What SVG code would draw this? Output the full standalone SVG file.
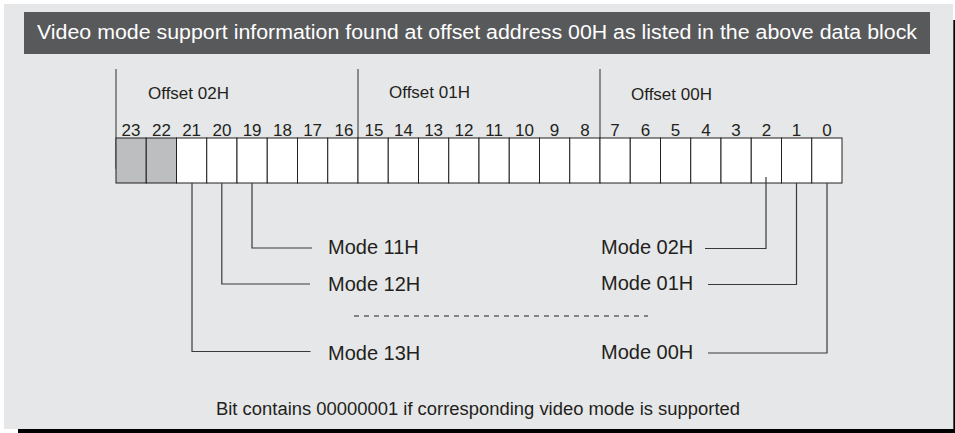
<svg xmlns="http://www.w3.org/2000/svg" width="955" height="433" viewBox="0 0 955 433">
<style>
text{font-family:"Liberation Sans",Arial,Helvetica,sans-serif;fill:#231f20}
.title{fill:#fff;font-size:20px}
.off{font-size:17px}
.num{font-size:17px;text-anchor:middle}
.mode{font-size:20px}
.foot{font-size:18px}
.cell{fill:#fff;stroke:#231f20;stroke-width:1}
.cell.res{fill:#bcbec0}
.sep{stroke:#4d4d4f;stroke-width:1.2;fill:none}
.lead{stroke:#3a3a3c;stroke-width:1.2;fill:none}
.dash{stroke:#231f20;stroke-width:1;stroke-dasharray:5 5;fill:none}
</style>
<rect x="0" y="0" width="955" height="433" fill="#fff"/>
<rect x="4" y="4" width="949" height="425" fill="#e6e7e8"/>
<rect x="953.3" y="20" width="1.7" height="413" fill="#000"/>
<rect x="18" y="429" width="937" height="4" fill="#000"/>

<g id="title">
<rect x="24" y="12" width="906" height="42" fill="#58595b"/>
<text class="title" x="37" y="39" textLength="880" lengthAdjust="spacingAndGlyphs">Video mode support information found at offset address 00H as listed in the above data block</text>
</g>

<g id="offsets">
<line class="sep" x1="116" y1="69" x2="116" y2="169"/>
<line class="sep" x1="358" y1="69" x2="358" y2="169"/>
<line class="sep" x1="600" y1="69" x2="600" y2="169"/>
<text class="off" x="148" y="99">Offset 02H</text>
<text class="off" x="389" y="98">Offset 01H</text>
<text class="off" x="631" y="100">Offset 00H</text>
</g>

<g id="register">
<rect class="cell res" x="116" y="138" width="30.25" height="45"/>
<rect class="cell res" x="146.25" y="138" width="30.25" height="45"/>
<rect class="cell" x="176.5" y="138" width="30.25" height="45"/>
<rect class="cell" x="206.75" y="138" width="30.25" height="45"/>
<rect class="cell" x="237" y="138" width="30.25" height="45"/>
<rect class="cell" x="267.25" y="138" width="30.25" height="45"/>
<rect class="cell" x="297.5" y="138" width="30.25" height="45"/>
<rect class="cell" x="327.75" y="138" width="30.25" height="45"/>
<rect class="cell" x="358" y="138" width="30.25" height="45"/>
<rect class="cell" x="388.25" y="138" width="30.25" height="45"/>
<rect class="cell" x="418.5" y="138" width="30.25" height="45"/>
<rect class="cell" x="448.75" y="138" width="30.25" height="45"/>
<rect class="cell" x="479" y="138" width="30.25" height="45"/>
<rect class="cell" x="509.25" y="138" width="30.25" height="45"/>
<rect class="cell" x="539.5" y="138" width="30.25" height="45"/>
<rect class="cell" x="569.75" y="138" width="30.25" height="45"/>
<rect class="cell" x="600" y="138" width="30.25" height="45"/>
<rect class="cell" x="630.25" y="138" width="30.25" height="45"/>
<rect class="cell" x="660.5" y="138" width="30.25" height="45"/>
<rect class="cell" x="690.75" y="138" width="30.25" height="45"/>
<rect class="cell" x="721" y="138" width="30.25" height="45"/>
<rect class="cell" x="751.25" y="138" width="30.25" height="45"/>
<rect class="cell" x="781.5" y="138" width="30.25" height="45"/>
<rect class="cell" x="811.75" y="138" width="30.25" height="45"/>
<text class="num" x="131" y="136">23</text>
<text class="num" x="161.4" y="136">22</text>
<text class="num" x="191.6" y="136">21</text>
<text class="num" x="221.9" y="136">20</text>
<text class="num" x="252.1" y="136">19</text>
<text class="num" x="282.4" y="136">18</text>
<text class="num" x="312.6" y="136">17</text>
<text class="num" x="344" y="136">16</text>
<text class="num" x="374" y="136">15</text>
<text class="num" x="403.4" y="136">14</text>
<text class="num" x="433.6" y="136">13</text>
<text class="num" x="463.9" y="136">12</text>
<text class="num" x="494.1" y="136">11</text>
<text class="num" x="524.4" y="136">10</text>
<text class="num" x="554.6" y="136">9</text>
<text class="num" x="584.9" y="136">8</text>
<text class="num" x="615.1" y="136">7</text>
<text class="num" x="645.4" y="136">6</text>
<text class="num" x="675.6" y="136">5</text>
<text class="num" x="705.9" y="136">4</text>
<text class="num" x="736.1" y="136">3</text>
<text class="num" x="766.4" y="136">2</text>
<text class="num" x="796.6" y="136">1</text>
<text class="num" x="826.9" y="136">0</text>
</g>

<g id="connectors">
<polyline class="lead" points="252,183 252,248 312,248"/>
<polyline class="lead" points="221.8,183 221.8,284 310,284"/>
<polyline class="lead" points="192,183 192,351.5 310.5,351.5"/>
<polyline class="lead" points="766,177 766,248.5 705,248.5"/>
<polyline class="lead" points="796.5,183 796.5,284.5 708,284.5"/>
<polyline class="lead" points="827,183 827,353 708,353"/>
<line class="dash" x1="354" y1="316" x2="648" y2="316"/>
</g>

<g id="mode11"><text class="mode" x="328" y="254">Mode 11H</text></g>
<g id="mode12"><text class="mode" x="328" y="290.5">Mode 12H</text></g>
<g id="mode13"><text class="mode" x="328" y="360">Mode 13H</text></g>
<g id="mode02"><text class="mode" x="601" y="254">Mode 02H</text></g>
<g id="mode01"><text class="mode" x="601" y="290">Mode 01H</text></g>
<g id="mode00"><text class="mode" x="601" y="359">Mode 00H</text></g>

<g id="footer">
<text class="foot" x="216" y="415" textLength="524" lengthAdjust="spacingAndGlyphs">Bit contains 00000001 if corresponding video mode is supported</text>
</g>
</svg>
